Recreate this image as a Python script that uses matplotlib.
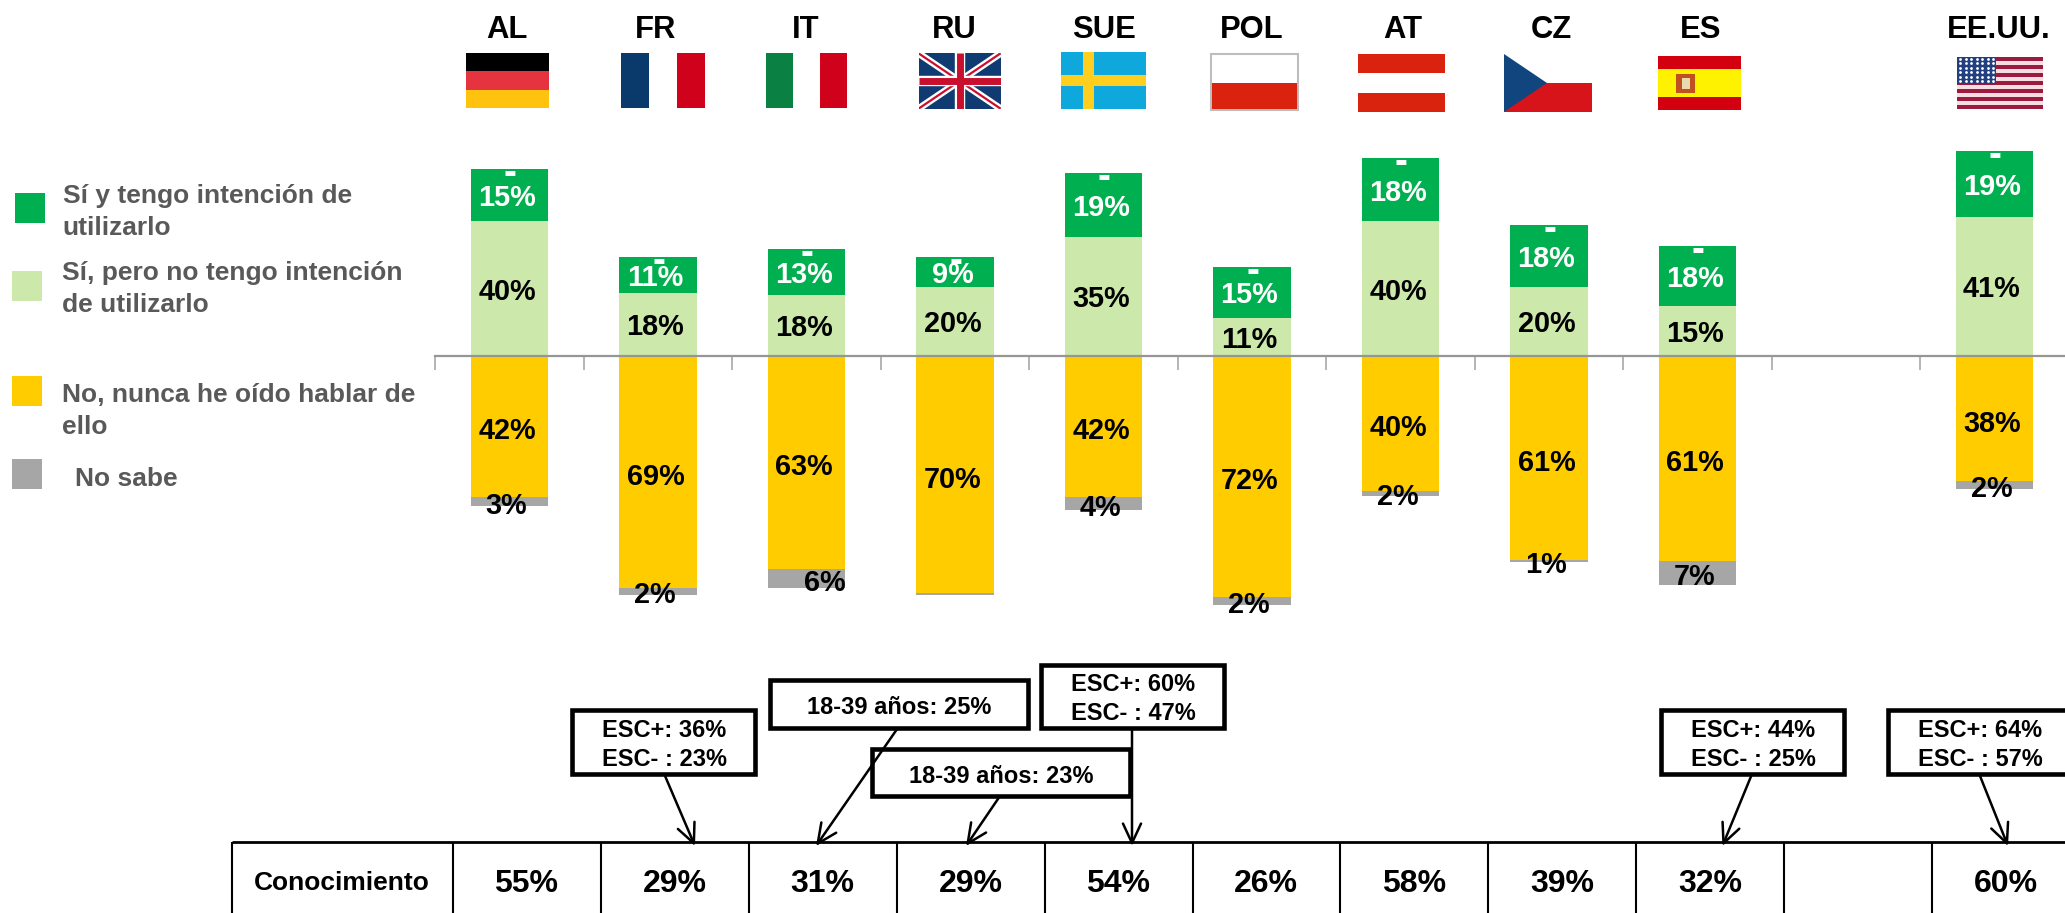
#!/usr/bin/env python3
"""Conocimiento e intencion de uso por pais: barras divergentes, banderas y tabla."""

import matplotlib
matplotlib.use("Agg")
import matplotlib.pyplot as plt
import numpy as np
from matplotlib.patches import Polygon, Rectangle

W, H = 2065, 913

paises = ["AL", "FR", "IT", "RU", "SUE", "POL", "AT", "CZ", "ES", "", "EE.UU."]

# alturas, en % (la columna vacia va a 0)
si_usar = [15.4, 10.6, 13.4, 8.6, 18.8, 14.8, 18.5, 18.0, 17.6, 0, 19.3]
si_no_usar = [39.5, 18.4, 17.9, 20.3, 35.0, 11.2, 39.5, 20.3, 14.6, 0, 40.9]
no_oido = [41.6, 68.3, 62.7, 69.9, 41.6, 71.0, 39.7, 60.0, 60.4, 0, 37.0]
no_sabe = [2.6, 2.0, 5.7, 0.4, 3.8, 2.3, 1.5, 0.8, 6.9, 0, 2.2]

# etiquetas impresas
etq_si_usar = [15, 11, 13, 9, 19, 15, 18, 18, 18, None, 19]
etq_si_no_usar = [40, 18, 18, 20, 35, 11, 40, 20, 15, None, 41]
etq_no_oido = [42, 69, 63, 70, 42, 72, 40, 61, 61, None, 38]
etq_no_sabe = [3, 2, 6, None, 4, 2, 2, 1, 7, None, 2]

conocimiento = ["55%", "29%", "31%", "29%", "54%", "26%", "58%", "39%", "32%", "", "60%"]

leyenda = [
    ["Sí y tengo intención de", "utilizarlo"],
    ["Sí, pero no tengo intención", "de utilizarlo"],
    ["No, nunca he oído hablar de", "ello"],
    ["No sabe"],
]

VERDE = "#00B050"
VERDE_CLARO = "#CCE8AA"
AMARILLO = "#FFCC00"
GRIS = "#A6A6A6"

plt.rcParams["font.family"] = ["Liberation Sans", "DejaVu Sans"]
plt.rcParams["font.weight"] = "bold"

fig = plt.figure(figsize=(W / 100, H / 100), dpi=100)

# capa en pixeles para banderas, leyenda, tabla y recuadros
px = fig.add_axes([0, 0, 1, 1])
px.set_xlim(0, W)
px.set_ylim(H, 0)
px.axis("off")

# grafico: eje en y=0 a 355.7 px, 3.4 px por punto porcentual
X0, PASO, Y0, ESC = 435.2, 148.5, 355.7, 3.4
TOP, BOT = 100, 630
ax = fig.add_axes([X0 / W, 1 - BOT / H, 1 - X0 / W, (BOT - TOP) / H])
ax.patch.set_alpha(0)

x = np.arange(len(paises))
ancho = 0.52
si_usar, si_no_usar = np.array(si_usar), np.array(si_no_usar)
no_oido, no_sabe = np.array(no_oido), np.array(no_sabe)

ax.bar(x, si_no_usar, ancho, color=VERDE_CLARO)
ax.bar(x, si_usar, ancho, bottom=si_no_usar, color=VERDE)
ax.bar(x, -no_oido, ancho, color=AMARILLO)
ax.bar(x, -no_sabe, ancho, bottom=-no_oido, color=GRIS)

for s in ["top", "left", "right"]:
    ax.spines[s].set_visible(False)
ax.spines["bottom"].set_position(("data", 0))
ax.spines["bottom"].set_color("#969696")
ax.spines["bottom"].set_linewidth(1.6)
ax.set_yticks([])
ax.set_xticks(np.arange(-0.5, 9.6, 1))
ax.tick_params(axis="x", direction="out", length=10, width=1.1, color="#A0A0A0", labelbottom=False)
# los limites van despues de los ticks, si no set_xticks los ensancha
ax.set_xlim(-0.5, (W - X0) / PASO - 0.5)
ax.set_ylim(-(BOT - Y0) / ESC, (Y0 - TOP) / ESC)


def etiqueta(xi, yi, n, color="black", dx=-2.5, dy=0):
    ax.annotate(f"{n}%", (xi, yi), xytext=(dx * 0.72, -dy * 0.72), textcoords="offset points",
                ha="center", va="center_baseline", fontsize=20.8, color=color, zorder=5)


for i in x:
    if etq_si_usar[i] is None:
        continue
    etiqueta(i, si_no_usar[i] + si_usar[i] / 2, etq_si_usar[i], "white")
    etiqueta(i, si_no_usar[i] / 2, etq_si_no_usar[i])
    etiqueta(i, -no_oido[i] / 2, etq_no_oido[i], dy=2)
    if etq_no_sabe[i] is not None:
        # la de Italia esta corrida a la derecha en el original
        etiqueta(i, -no_oido[i] - no_sabe[i] / 2, etq_no_sabe[i], dx=18 if paises[i] == "IT" else -3, dy=1)
    # guion blanco arriba de cada barra
    ax.annotate("-", (i, si_no_usar[i] + si_usar[i]), xytext=(0.5, -10.7), textcoords="offset points",
                ha="center", va="baseline", fontsize=28, color="white", zorder=6)

# nombres de pais
centros = [507.4, 656, 805.5, 954.6, 1103.6, 1252, 1402.8, 1551.5, 1700.6, None, 1998.4]
for nombre, cx in zip(paises, centros):
    if cx is not None:
        px.text(cx, 26.5, nombre, ha="center", va="center_baseline", fontsize=22.3, color="black")


# banderas
def franjas(x0, y0, x1, y1, colores, vertical=False):
    n = len(colores)
    for k, c in enumerate(colores):
        if vertical:
            w = (x1 - x0) / n
            px.add_patch(Rectangle((x0 + k * w, y0), w, y1 - y0, color=c, lw=0))
        else:
            h = (y1 - y0) / n
            px.add_patch(Rectangle((x0, y0 + k * h), x1 - x0, h, color=c, lw=0))


franjas(466, 53, 548.7, 108.3, ["#000000", "#E5343F", "#FFC20E"])
franjas(621, 53, 704.6, 108.3, ["#0A3A6B", "#FFFFFF", "#D0021B"], vertical=True)
franjas(765.8, 53, 847.4, 108.3, ["#0B8043", "#FFFFFF", "#D0021B"], vertical=True)

# Reino Unido
ux0, uy0, ux1, uy1 = 918.5, 53.3, 1000.6, 108.7
ufondo = Rectangle((ux0, uy0), ux1 - ux0, uy1 - uy0, color="#103A72", lw=0)
px.add_patch(ufondo)
ucx, ucy = (ux0 + ux1) / 2, (uy0 + uy1) / 2
for (xa, ya, xb, yb), col, lw in [
    ((ux0, uy0, ux1, uy1), "white", 5), ((ux0, uy1, ux1, uy0), "white", 5),
    ((ux0, uy0, ux1, uy1), "#C8102E", 1.6), ((ux0, uy1, ux1, uy0), "#C8102E", 1.6),
    ((ucx, uy0, ucx, uy1), "white", 7.5), ((ux0, ucy, ux1, ucy), "white", 7.5),
    ((ucx, uy0, ucx, uy1), "#C8102E", 5), ((ux0, ucy, ux1, ucy), "#C8102E", 5),
]:
    ln, = px.plot([xa, xb], [ya, yb], color=col, lw=lw, solid_capstyle="butt")
    ln.set_clip_path(ufondo)

# Suecia
px.add_patch(Rectangle((1061, 52.3), 84.5, 57, color="#0FA8DC", lw=0))
px.add_patch(Rectangle((1061, 75.5), 84.5, 11, color="#FFCE1F", lw=0))
px.add_patch(Rectangle((1083, 52.3), 11, 57, color="#FFCE1F", lw=0))

# Polonia
px.add_patch(Rectangle((1210.9, 54.3), 86.9, 55.7, facecolor="white", edgecolor="#BDBDBD", lw=1.5))
px.add_patch(Rectangle((1211.8, 83.3), 85, 26, color="#D9230F", lw=0))

franjas(1358, 54, 1445, 112, ["#D9230F", "#FFFFFF", "#D9230F"])

# Chequia
px.add_patch(Rectangle((1504, 54), 88, 58, color="white", lw=0))
px.add_patch(Rectangle((1504, 83), 88, 29, color="#D7141A", lw=0))
px.add_patch(Polygon([(1504, 54), (1547, 83), (1504, 112)], color="#11457E", lw=0))

# España
px.add_patch(Rectangle((1658, 55.7), 82.6, 54.3, color="#D3000F", lw=0))
px.add_patch(Rectangle((1658, 69.3), 82.6, 27.4, color="#FFF200", lw=0))
px.add_patch(Rectangle((1676, 74), 19, 19, color="#C0501E", lw=0))
px.add_patch(Rectangle((1682, 78), 8, 11, color="#E9D9B0", lw=0))

# EE.UU.
franjas(1957.4, 56.7, 2042.6, 108.7,
        ["#9A1B3E" if k % 2 == 0 else "#F6DDE4" for k in range(13)])
px.add_patch(Rectangle((1957.4, 56.7), 38.4, 27, color="#22407F", lw=0))
ex, ey = np.meshgrid(np.linspace(1960, 1993, 7), np.linspace(59, 81, 6))
px.scatter(ex.ravel(), ey.ravel(), s=4, color="white", lw=0, zorder=4)

# leyenda
cuadros = [(15, 193, VERDE), (12, 271, VERDE_CLARO), (12, 376, AMARILLO), (12, 459, GRIS)]
for cx, cy, col in cuadros:
    px.add_patch(Rectangle((cx, cy), 30, 30, color=col, lw=0))
textos_pos = [(62.7, 203), (61.7, 280), (61.7, 402), (75, 485.7)]
for lineas, (tx, ty) in zip(leyenda, textos_pos):
    for k, linea in enumerate(lineas):
        px.text(tx, ty + 32 * k, linea, ha="left", va="baseline", fontsize=19, color="#595959")

# tabla inferior
TY = 842.3
px.plot([232, W], [TY, TY], color="black", lw=2, solid_capstyle="butt", zorder=3)
for vx in [232, 452.8, 601.4, 749.3, 897.3, 1044.6, 1193, 1340, 1488, 1636.4, 1784, 1932]:
    px.plot([vx, vx], [TY, H], color="black", lw=1.5, solid_capstyle="butt", zorder=3)
px.text(341.6, 880, "Conocimiento", ha="center", va="center_baseline", fontsize=19, color="black")
celdas_x = [526, 675, 822.7, 970.6, 1118, 1266, 1414, 1562.4, 1710.3, 1858, 2006]
for cx, val in zip(celdas_x, conocimiento):
    if val:
        px.text(cx, 880.7, val, ha="center", va="center_baseline", fontsize=23, color="black")


# recuadros con flecha; x0..y1 son los bordes exteriores del marco
def recuadro(x0, y0, x1, y1, cx, lineas, ys, flecha):
    m = 1.0
    px.add_patch(Rectangle((x0 + m, y0 + m), x1 - x0 - 2 * m, y1 - y0 - 2 * m, facecolor="white",
                           edgecolor="black", lw=3.3, zorder=6, clip_on=False))
    for linea, ty in zip(lineas, ys):
        px.text(cx, ty - 1, linea, ha="center", va="center_baseline", fontsize=17, color="black", zorder=7)
    (ax0, ay0), (ax1, ay1) = flecha
    px.annotate("", xy=(ax1, ay1), xytext=(ax0, ay0), zorder=8,
                arrowprops=dict(arrowstyle="->,head_length=14,head_width=6.5", mutation_scale=1,
                                lw=1.8, color="black", shrinkA=0, shrinkB=0))


recuadro(571.4, 709.3, 756.4, 774.7, 664.5, ["ESC+: 36%", "ESC- : 23%"], [729.3, 757.7],
         ((664.5, 774.7), (695, 846)))
recuadro(768.5, 679.3, 1028.7, 728.7, 899, ["18-39 años: 25%"], [705.7],
         ((897.3, 728.7), (816, 846)))
recuadro(871, 748, 1131, 797, 1001, ["18-39 años: 23%"], [775],
         ((999.3, 797), (966, 846)))
recuadro(1040, 664, 1225.4, 728.7, 1133, ["ESC+: 60%", "ESC- : 47%"], [683.3, 711.7],
         ((1132, 728.7), (1132, 846)))
recuadro(1660, 709.3, 1845, 774.7, 1753, ["ESC+: 44%", "ESC- : 25%"], [729.3, 757.7],
         ((1751.7, 774.7), (1722.4, 846)))
recuadro(1886.8, 709.3, 2072, 774.7, 1980, ["ESC+: 64%", "ESC- : 57%"], [729.3, 757.7],
         ((1979.5, 774.7), (2008, 846)))

fig.savefig("out.png", dpi=100)
